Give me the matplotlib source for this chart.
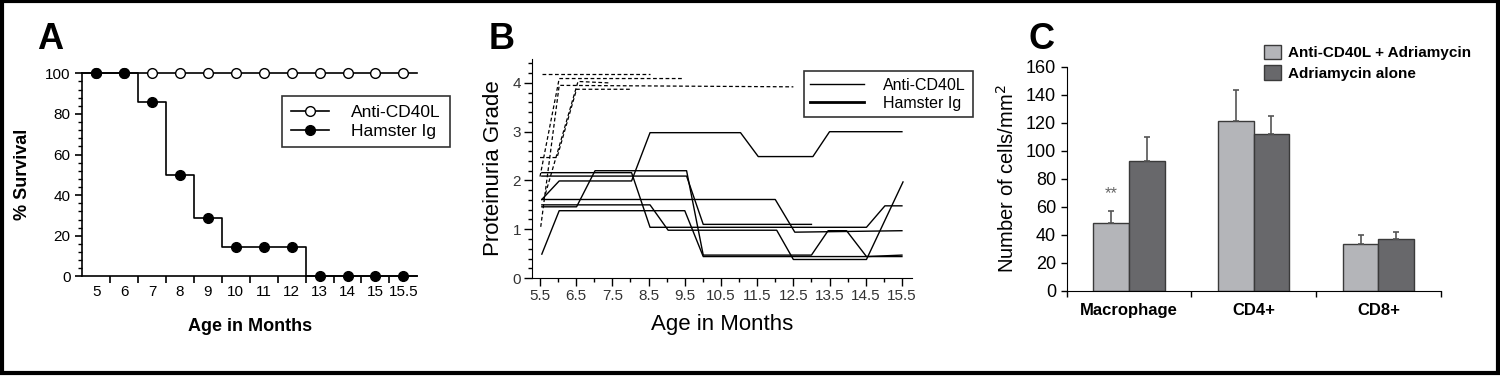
import numpy as np
import matplotlib
matplotlib.use("Agg")
import matplotlib.pyplot as plt
from matplotlib.ticker import MultipleLocator, FixedLocator
from matplotlib.lines import Line2D
from matplotlib.patches import Rectangle, Patch

plt.rcParams['font.family'] = ['Liberation Sans', 'DejaVu Sans']

# ---------------- data ----------------
# Panel A: survival
surv_labels = ["5", "6", "7", "8", "9", "10", "11", "12", "13", "14", "15", "15.5"]
surv_anti = [100, 100, 100, 100, 100, 100, 100, 100, 100, 100, 100, 100]
surv_hamster = [100, 100, 85.7, 50, 28.6, 14.3, 14.3, 14.3, 0, 0, 0, 0]

# Panel B: proteinuria grade, individual mice
prot_solid_x = [
    [5.55, 6.03, 9.5, 10.01, 15.5],
    [5.55, 6.51, 7.02, 9.55, 10.01, 13.0, 13.46, 13.97, 14.52, 15.5],
    [5.55, 8.54, 9.04, 12.04, 12.5, 14.52, 15.53],
    [5.55, 12.0, 12.54, 15.5],
    [5.55, 9.55, 10.01, 13.0],
    [5.55, 8.03, 8.54, 14.52, 15.03, 15.5],
    [5.55, 6.03, 8.03, 8.54, 11.04, 11.53, 13.04, 13.5, 15.5],
]
prot_solid_y = [
    [0.49, 1.38, 1.38, 0.44, 0.44],
    [1.46, 1.46, 2.2, 2.2, 0.47, 0.47, 0.97, 0.97, 0.44, 0.47],
    [1.5, 1.5, 0.98, 0.98, 0.38, 0.38, 1.97],
    [1.61, 1.61, 0.94, 0.97],
    [2.09, 2.09, 1.1, 1.1],
    [2.16, 2.16, 1.04, 1.04, 1.48, 1.48],
    [1.61, 1.99, 1.99, 2.98, 2.98, 2.49, 2.49, 3.0, 3.0],
]
prot_dash_x = [
    [5.55, 8.54],
    [5.5, 6.03, 9.43],
    [5.52, 6.03, 12.5],
    [5.5, 5.97, 6.51, 7.98],
    [5.6, 6.55, 7.43],
]
prot_dash_y = [
    [4.19, 4.19],
    [2.08, 4.09, 4.09],
    [1.05, 3.95, 3.92],
    [2.47, 2.47, 3.87, 3.87],
    [1.6, 4.03, 4.0],
]
prot_ticks = [5.5, 6.5, 7.5, 8.5, 9.5, 10.5, 11.5, 12.5, 13.5, 14.5, 15.5]

# Panel C: infiltrating cells
cell_types = ["Macrophage", "CD4+", "CD8+"]
cells_anti = [48, 121.5, 33]
cells_anti_err = [9, 22, 7]
cells_adria = [92.5, 112, 37]
cells_adria_err = [17, 13, 5]

# ---------------- figure ----------------
fig = plt.figure(figsize=(15, 3.76), dpi=100)
fig.patches.append(Rectangle((0.0015, 0.007), 0.997, 0.99, transform=fig.transFigure,
                             fill=False, edgecolor="black", linewidth=3))

# ---- Panel A ----
axA = fig.add_axes([0.0549, 0.265, 0.2233, 0.54])
x = np.arange(len(surv_labels))
xa = np.concatenate([[-0.5], x, [11.5]])
axA.plot(xa, [surv_anti[0]] + surv_anti + [surv_anti[-1]], color="black", lw=1.2,
         drawstyle="steps-mid", clip_on=False)
axA.plot(x, surv_anti, "o", mfc="white", mec="black", ms=7, mew=1, clip_on=False, zorder=4)
axA.plot(xa, [surv_hamster[0]] + surv_hamster + [surv_hamster[-1]], color="black", lw=1.2,
         drawstyle="steps-mid", clip_on=False)
axA.plot(x, surv_hamster, "o", color="black", ms=7, clip_on=False, zorder=4)
axA.set_xlim(-0.5, 11.5)
axA.set_ylim(0, 100)
axA.set_xticks(x)
axA.set_xticklabels(surv_labels, fontsize=11)
axA.xaxis.set_minor_locator(FixedLocator(np.arange(0.5, 11.5, 1)))
axA.tick_params(axis="x", which="major", length=0, pad=6)
axA.tick_params(axis="x", which="minor", length=5, width=1.2, direction="out")
axA.set_yticks(range(0, 101, 20))
axA.yaxis.set_minor_locator(MultipleLocator(4))
axA.tick_params(axis="y", which="major", length=5, width=1.2, labelsize=11)
axA.tick_params(axis="y", which="minor", length=3, width=1)
for s in ["top", "right"]:
    axA.spines[s].set_visible(False)
for s in ["left", "bottom"]:
    axA.spines[s].set_linewidth(1.2)
axA.set_xlabel("Age in Months", fontsize=13, fontweight="bold", labelpad=14)
axA.set_ylabel("% Survival", fontsize=13, fontweight="bold", labelpad=10)
hA = [Line2D([0], [0], color="black", lw=1.2, marker="o", mfc="white", mec="black", ms=7),
      Line2D([0], [0], color="black", lw=1.2, marker="o", ms=7)]
legA = axA.legend(hA, ["Anti-CD40L", "Hamster Ig"], loc="upper left",
                  bbox_to_anchor=(0.57, 0.93), fontsize=12.5, frameon=True, fancybox=False,
                  edgecolor="black", handlelength=2.2, handletextpad=1.3,
                  borderpad=0.5, labelspacing=0.2)
legA.get_frame().set_linewidth(1.2)
fig.text(0.025, 0.87, "A", fontsize=26, fontweight="bold")

# ---- Panel B ----
axB = fig.add_axes([0.3547, 0.2606, 0.2531, 0.5824])
for xs, ys in zip(prot_dash_x, prot_dash_y):
    axB.plot(xs, ys, color="black", lw=0.9, linestyle=(0, (3, 2)))
for xs, ys in zip(prot_solid_x, prot_solid_y):
    axB.plot(xs, ys, color="black", lw=1.0)
axB.set_xlim(5.28, 15.77)
axB.set_ylim(0, 4.49)
axB.set_xticks(prot_ticks)
axB.set_xticklabels([str(t) for t in prot_ticks], fontsize=11, color="#333333")
axB.xaxis.set_minor_locator(FixedLocator(np.arange(6, 16, 1)))
axB.set_yticks(range(0, 5))
axB.set_yticklabels([str(t) for t in range(0, 5)], fontsize=11, color="#333333")
axB.yaxis.set_minor_locator(MultipleLocator(0.2))
axB.tick_params(axis="both", which="major", length=6, width=1, pad=2)
axB.tick_params(axis="both", which="minor", length=3, width=1)
for s in ["top", "right"]:
    axB.spines[s].set_visible(False)
axB.set_xlabel("Age in Months", fontsize=16, labelpad=8)
axB.set_ylabel("Proteinuria Grade", fontsize=16, labelpad=6)
hB = [Line2D([0], [0], color="black", lw=1.0), Line2D([0], [0], color="black", lw=2.0)]
legB = axB.legend(hB, ["Anti-CD40L", "Hamster Ig"], loc="upper left",
                  bbox_to_anchor=(0.694, 0.98), fontsize=11.5, frameon=True, fancybox=False,
                  edgecolor="black", handlelength=3.4, handletextpad=1.2,
                  borderpad=0.4, labelspacing=0.2)
legB.get_frame().set_linewidth(1.2)
fig.text(0.326, 0.87, "B", fontsize=26, fontweight="bold")

# ---- Panel C ----
axC = fig.add_axes([0.7111, 0.2269, 0.2494, 0.5958])
xc = np.arange(len(cell_types))
w = 0.285
axC.bar(xc - w / 2, cells_anti, w, color="#b4b5b9", edgecolor="#3a3a3a", linewidth=1,
        yerr=[np.zeros(3), cells_anti_err], error_kw=dict(ecolor="#555555", elinewidth=1.2,
                                                           capsize=2, capthick=1.2))
axC.bar(xc + w / 2, cells_adria, w, color="#68686b", edgecolor="#3a3a3a", linewidth=1,
        yerr=[np.zeros(3), cells_adria_err], error_kw=dict(ecolor="#555555", elinewidth=1.2,
                                                            capsize=2, capthick=1.2))
axC.text(xc[0] - w / 2, 64, "**", ha="center", va="bottom", fontsize=12, color="#666666")
axC.set_xlim(-0.5, 2.5)
axC.set_ylim(0, 160)
axC.set_xticks(xc)
axC.set_xticklabels(cell_types, fontsize=12, fontweight="bold")
axC.xaxis.set_minor_locator(FixedLocator([-0.5, 0.5, 1.5, 2.5]))
axC.tick_params(axis="x", which="major", length=0, pad=9)
axC.tick_params(axis="x", which="minor", length=4, width=1)
axC.set_yticks(range(0, 161, 20))
axC.tick_params(axis="y", which="major", length=4, width=1, labelsize=13)
for s in ["top", "right"]:
    axC.spines[s].set_visible(False)
axC.set_ylabel("Number of cells/mm$^2$", fontsize=14.5, labelpad=6)
hC = [Patch(facecolor="#b4b5b9", edgecolor="#3a3a3a"),
      Patch(facecolor="#68686b", edgecolor="#3a3a3a")]
legC = axC.legend(hC, ["Anti-CD40L + Adriamycin", "Adriamycin alone"], loc="upper left",
                  bbox_to_anchor=(0.49, 1.16), frameon=False, handlelength=1.1,
                  handleheight=1.1, handletextpad=0.5, labelspacing=0.35,
                  prop=dict(size=11, weight="bold"))
fig.text(0.686, 0.87, "C", fontsize=26, fontweight="bold")

fig.savefig("out.png", dpi=100, facecolor="white")
